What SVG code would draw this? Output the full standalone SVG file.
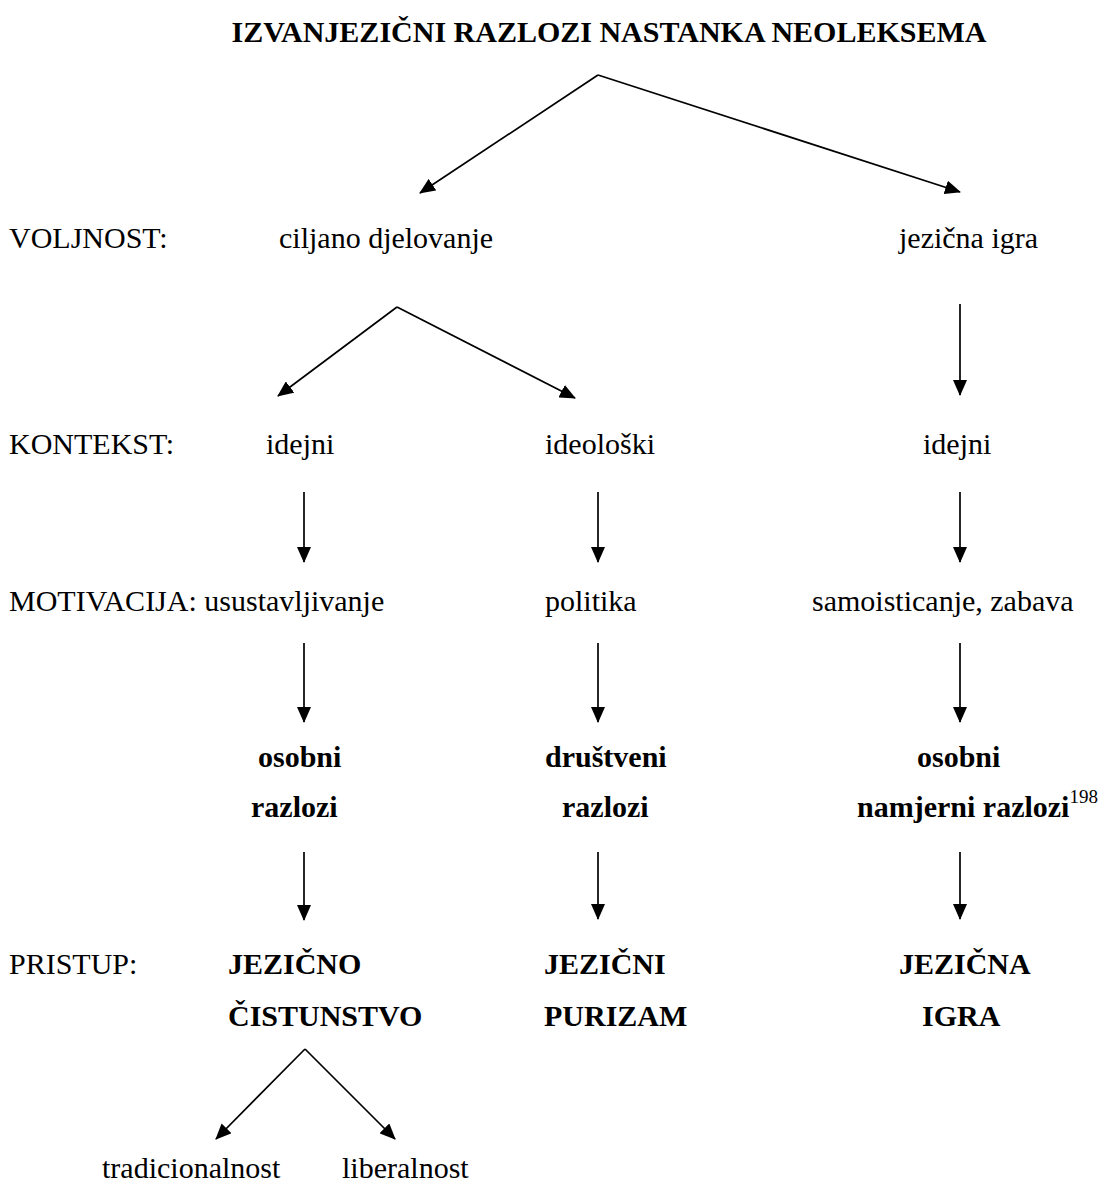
<svg xmlns="http://www.w3.org/2000/svg" width="1101" height="1184" viewBox="0 0 1101 1184">
<style>
text{font-family:"Liberation Serif","Times New Roman",serif;font-size:30px;fill:#000}
.b{font-weight:bold}
.sup{font-size:19px}
.c line{stroke:#000;stroke-width:1.7;fill:none}
</style>
<defs>
<marker id="ah" markerUnits="userSpaceOnUse" markerWidth="16" markerHeight="14" refX="15" refY="7" orient="auto">
<path d="M0,0 L16,7 L0,14 Z" fill="#000"/>
</marker>
</defs>
<rect width="1101" height="1184" fill="#fff"/>
<g id="title"><text class="b" x="609" y="42" text-anchor="middle">IZVANJEZIČNI RAZLOZI NASTANKA NEOLEKSEMA</text></g>
<g id="labels">
<text x="9" y="248">VOLJNOST:</text>
<text x="9" y="454">KONTEKST:</text>
<text x="9" y="611">MOTIVACIJA: usustavljivanje</text>
<text x="9" y="974">PRISTUP:</text>
</g>
<g id="ciljano"><text x="279" y="248">ciljano djelovanje</text></g>
<g id="jezicna-igra"><text x="899" y="248">jezična igra</text></g>
<g id="idejni1"><text x="266" y="454">idejni</text></g>
<g id="ideoloski"><text x="545" y="454">ideološki</text></g>
<g id="idejni2"><text x="923" y="454">idejni</text></g>
<g id="politika"><text x="545" y="611">politika</text></g>
<g id="samoisticanje"><text x="812" y="611">samoisticanje, zabava</text></g>
<g id="osobni1"><text class="b" x="258" y="767">osobni</text><text class="b" x="251" y="817">razlozi</text></g>
<g id="drustveni"><text class="b" x="545" y="767">društveni</text><text class="b" x="562" y="817">razlozi</text></g>
<g id="osobni2"><text class="b" x="917" y="767">osobni</text><text x="857" y="817"><tspan class="b">namjerni razlozi</tspan><tspan class="sup" dy="-14">198</tspan></text></g>
<g id="cistunstvo"><text class="b" x="228" y="974">JEZIČNO</text><text class="b" x="228" y="1026">ČISTUNSTVO</text></g>
<g id="purizam"><text class="b" x="544" y="974">JEZIČNI</text><text class="b" x="544" y="1026">PURIZAM</text></g>
<g id="igra"><text class="b" x="899" y="974">JEZIČNA</text><text class="b" x="922" y="1026">IGRA</text></g>
<g id="tradicionalnost"><text x="102" y="1178">tradicionalnost</text></g>
<g id="liberalnost"><text x="342" y="1178">liberalnost</text></g>
<g id="connectors" class="c">
<line x1="598" y1="75" x2="420" y2="193" marker-end="url(#ah)"/>
<line x1="598" y1="75" x2="960" y2="192" marker-end="url(#ah)"/>
<line x1="397" y1="307" x2="278" y2="396" marker-end="url(#ah)"/>
<line x1="397" y1="307" x2="575" y2="398" marker-end="url(#ah)"/>
<line x1="960" y1="304" x2="960" y2="395" marker-end="url(#ah)"/>
<line x1="304" y1="492" x2="304" y2="562" marker-end="url(#ah)"/>
<line x1="598" y1="492" x2="598" y2="562" marker-end="url(#ah)"/>
<line x1="960" y1="492" x2="960" y2="562" marker-end="url(#ah)"/>
<line x1="304" y1="643" x2="304" y2="722" marker-end="url(#ah)"/>
<line x1="598" y1="643" x2="598" y2="722" marker-end="url(#ah)"/>
<line x1="960" y1="643" x2="960" y2="722" marker-end="url(#ah)"/>
<line x1="304" y1="852" x2="304" y2="920" marker-end="url(#ah)"/>
<line x1="598" y1="852" x2="598" y2="919" marker-end="url(#ah)"/>
<line x1="960" y1="852" x2="960" y2="919" marker-end="url(#ah)"/>
<line x1="305" y1="1049" x2="216" y2="1139" marker-end="url(#ah)"/>
<line x1="305" y1="1049" x2="395" y2="1139" marker-end="url(#ah)"/>
</g>
</svg>
